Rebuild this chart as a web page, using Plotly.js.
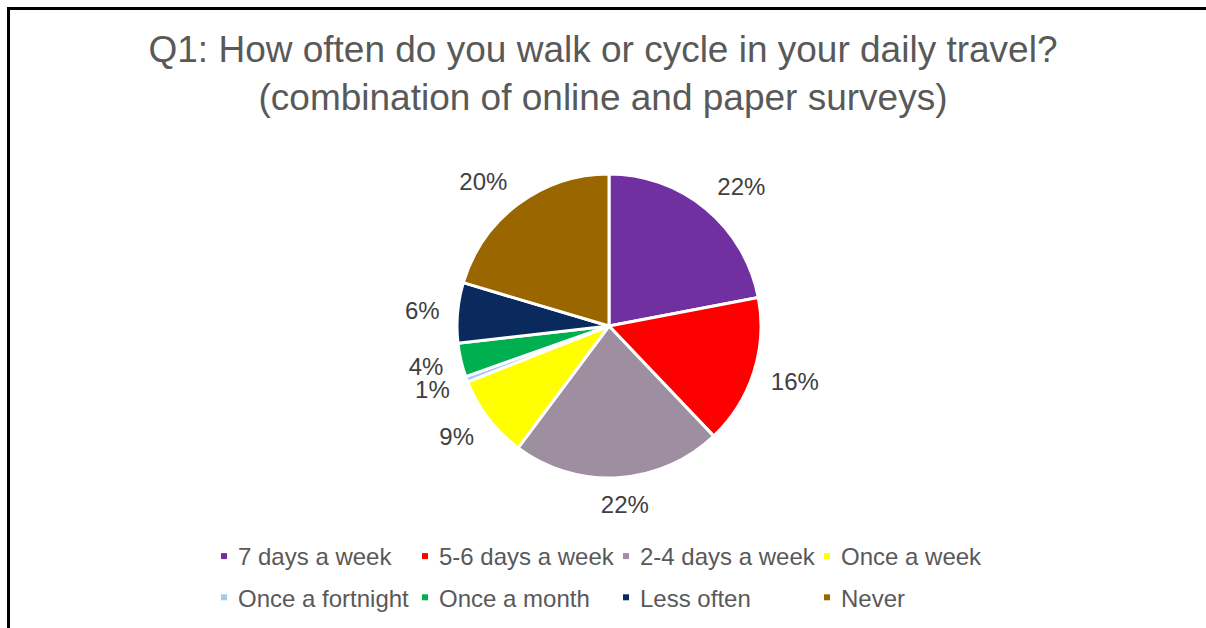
<!DOCTYPE html>
<html>
<head>
<meta charset="utf-8">
<script src="https://cdn.plot.ly/plotly-3.0.1.min.js"></script>
<style>
  html, body { margin: 0; padding: 0; background: #ffffff; }
  #wrap { position: relative; width: 1206px; height: 628px; overflow: hidden; }
  #chart { position: absolute; left: 0; top: 0; width: 1206px; height: 628px; }
  #frame { position: absolute; left: 7px; top: 7px; width: 1220px; height: 640px;
           border-top: 3px solid #000; border-left: 3px solid #000; pointer-events: none; }
</style>
</head>
<body>
<div id="wrap">
  <div id="chart"></div>
  <div id="frame"></div>
</div>
<script>
// ---- data ----
const categories = ['7 days a week', '5-6 days a week', '2-4 days a week', 'Once a week',
                    'Once a fortnight', 'Once a month', 'Less often', 'Never'];
const shares = [22.0, 15.9, 22.3, 8.8, 0.6, 3.6, 6.4, 20.4];
const sliceColors = ['#7030A0', '#FF0000', '#9E8FA0', '#FFFF00',
                     '#A9C8F0', '#00B050', '#0A2A5E', '#996600'];
const titleLines = ['Q1: How often do you walk or cycle in your daily travel?',
                    '(combination of online and paper surveys)'];

const W = 1206, H = 628;
const ml = 198, mr = 198;
const gw = W - ml - mr;
const cx = 609, cy = 326, R = 152;
const LABEL_SIZE = 24;
const LABEL_GAP = 18;

const trace = {
  type: 'pie',
  labels: categories,
  values: shares,
  sort: false,
  direction: 'clockwise',
  rotation: 0,
  marker: { colors: sliceColors, line: { color: '#ffffff', width: 3 } },
  textposition: 'outside',
  texttemplate: '%{percent:.0%}',
  textfont: { family: 'Liberation Sans, Arial, sans-serif', size: LABEL_SIZE, color: '#404040' },
  hoverinfo: 'label+percent',
  domain: {
    x: [(cx - R - ml) / gw, (cx + R - ml) / gw],
    y: [1 - (cy + R) / H, 1 - (cy - R) / H]
  }
};

const layout = {
  width: W, height: H,
  margin: { l: ml, r: mr, t: 0, b: 0 },
  paper_bgcolor: '#ffffff',
  plot_bgcolor: '#ffffff',
  title: {
    text: titleLines.join('<br>'),
    font: { family: 'Liberation Sans, Arial, sans-serif', size: 37, color: '#595959' },
    x: 0.5, xref: 'container', xanchor: 'center',
    y: 1 - 62 / H, yref: 'container', yanchor: 'middle'
  },
  showlegend: true,
  legend: {
    orientation: 'h',
    x: 0, xanchor: 'left', xref: 'paper',
    y: 1 - 534 / H, yanchor: 'top', yref: 'paper',
    entrywidth: 156, entrywidthmode: 'pixels',
    font: { family: 'Liberation Sans, Arial, sans-serif', size: 24, color: '#595959' },
    bgcolor: 'rgba(0,0,0,0)',
    traceorder: 'normal'
  }
};

function parseTranslate(s) {
  const m = /translate\(\s*([-\d.e]+)[ ,]+([-\d.e]+)\s*\)/.exec(s || '');
  return m ? [parseFloat(m[1]), parseFloat(m[2])] : [0, 0];
}
function clamp1(v) { return Math.max(-1, Math.min(1, v)); }

Plotly.newPlot('chart', [trace], layout, { displayModeBar: false, staticPlot: true }).then(function (gd) {
  // Excel-style small square legend keys
  gd.querySelectorAll('.legendpoints path.legendpie').forEach(function (p) {
    p.setAttribute('transform', 'translate(26,0) scale(0.5)');
    p.style.strokeWidth = '0px';
  });
  // wider row spacing in the legend (second row down a little)
  const items = Array.from(gd.querySelectorAll('g.legend g.traces'));
  const ys = items.map(function (g) { return parseTranslate(g.getAttribute('transform'))[1]; });
  const y0 = Math.min.apply(null, ys);
  items.forEach(function (g, i) {
    if (ys[i] > y0 + 1) {
      const t = parseTranslate(g.getAttribute('transform'));
      g.setAttribute('transform', 'translate(' + t[0] + ',' + (t[1] + 7) + ')');
    }
  });
  // Excel "outside end" label placement along each slice's mid-angle
  gd.querySelectorAll('path.textline').forEach(function (p) { p.style.display = 'none'; });
  const traceG = gd.querySelector('g.pielayer g.trace');
  const cd = traceG.__data__;
  const pcx = cd[0].cx, pcy = cd[0].cy, pr = cd[0].r;
  const chartBox = gd.getBoundingClientRect();
  const halfH = 0.36 * LABEL_SIZE;
  gd.querySelectorAll('g.pielayer g.slice').forEach(function (s) {
    const pt = s.__data__;
    const tg = s.querySelector('g.slicetext');
    if (!tg || !pt || !pt.pxmid) return;
    const txt = tg.querySelector('text');
    const b = txt.getBoundingClientRect();
    const len = Math.hypot(pt.pxmid[0], pt.pxmid[1]);
    const ux = pt.pxmid[0] / len, uy = pt.pxmid[1] / len;
    const d = pr + LABEL_GAP;
    const tx = pcx + ux * d + clamp1(4 * ux) * b.width / 2;
    const ty = pcy + uy * d + clamp1(1.3 * uy) * halfH;
    const curX = b.left - chartBox.left + b.width / 2;
    const curY = b.top - chartBox.top + b.height / 2;
    tg.setAttribute('transform', 'translate(' + (tx - curX) + ',' + (ty - curY) + ') ' + (tg.getAttribute('transform') || ''));
  });
});
</script>
</body>
</html>
